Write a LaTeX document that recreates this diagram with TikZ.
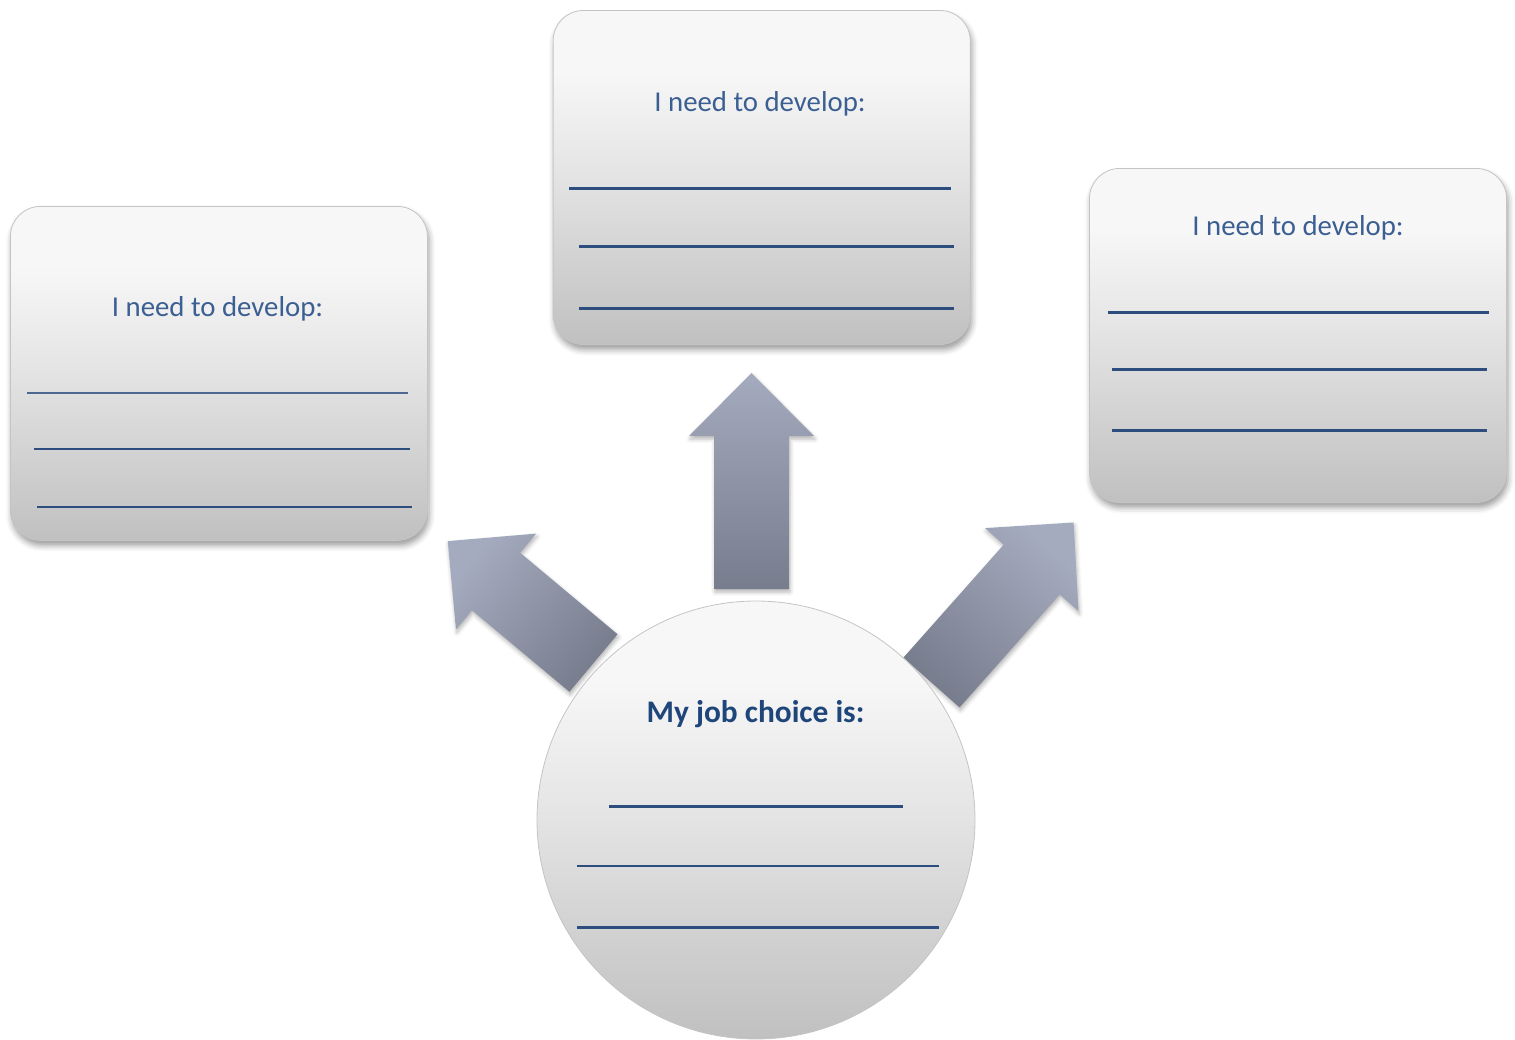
\documentclass[tikz,border=0pt]{standalone}
\usepackage{fontspec}
\setmainfont{Carlito}
\usetikzlibrary{shadows.blur}
\definecolor{txtblue}{HTML}{3B5F92}
\definecolor{boldblue}{HTML}{1F467A}
\definecolor{lineblue}{HTML}{2C4D7D}
\definecolor{boxtop}{HTML}{F7F7F7}
\definecolor{boxmid}{HTML}{E6E6E6}
\definecolor{boxbot}{HTML}{C0C0C0}
\definecolor{boxedge}{HTML}{C4C4C4}
\definecolor{arrowlight}{HTML}{A5ABBE}
\definecolor{arrowdark}{HTML}{777D8D}
\pgfdeclareverticalshading{boxshade}{100bp}{color(0bp)=(boxbot); color(25bp)=(boxbot); color(52bp)=(boxmid); color(66bp)=(boxtop); color(75bp)=(boxtop); color(100bp)=(boxtop)}
\tikzset{
  devbox/.style={draw=boxedge, line width=0.4pt, shading=boxshade, rounded corners=15pt,
    minimum width=208.5pt, minimum height=167pt, inner sep=0pt,
    blur shadow={shadow xshift=0.8pt, shadow yshift=-2.5pt, shadow blur radius=3pt, shadow opacity=40}},
  jobcirc/.style={circle, draw=boxedge, line width=0.4pt, shading=boxshade,
    minimum size=438pt*0.5, inner sep=0pt},
  lbl/.style={text=txtblue, font=\fontsize{14.4pt}{17pt}\selectfont, anchor=base, inner sep=0pt},
  boldlbl/.style={text=boldblue, font=\fontsize{15.7pt}{18pt}\selectfont\bfseries, anchor=base, inner sep=0pt},
  uline/.style={draw=lineblue, line width=1.3pt},
  thinline/.style={draw=lineblue!85!white, line width=0.9pt},
  arrowfill/.style={top color=arrowlight, bottom color=arrowdark,
    blur shadow={shadow xshift=0.5pt, shadow yshift=-1.5pt, shadow blur radius=2pt, shadow opacity=30}}
}
\newcommand\blockarrowshape[4]{%
  \begin{scope}[shift={(#1,#2)}, rotate=#3]
    \path[arrowfill, shading angle=#3-90] (0,-37.5) -- ({#4-63},-37.5) -- ({#4-63},-62.5) -- (#4,0)
      -- ({#4-63},62.5) -- ({#4-63},37.5) -- (0,37.5) -- cycle;
  \end{scope}}
\begin{document}
\begin{tikzpicture}[x=0.5pt, y=-0.5pt]
\useasboundingbox (0,0) rectangle (1515,1039);
% boxes
\node[devbox] (leftbox) at (218.9,373.4) {};
\node[devbox] (midbox) at (761.7,177.5) {};
\node[devbox] (rightbox) at (1298,335.5) {};
% arrows
\blockarrowshape{751.5}{589}{90}{216}
\blockarrowshape{593.5}{663}{140.1}{190}
\blockarrowshape{931.5}{682.5}{48.4}{214}
% circle
\node[jobcirc] (job) at (756,820) {};
% texts
\node[lbl] (lefttxt) at (217.5,316) {I need to develop:};
\node[lbl] (midtxt) at (760,111) {I need to develop:};
\node[lbl] (righttxt) at (1298,235.7) {I need to develop:};
\node[boldlbl] (jobtxt) at (755.5,722.5) {My job choice is:};
% lines left box
\draw[thinline] (27.3,393.3) -- (408.3,393.3);
\draw[uline] (34.3,449) -- (409.7,449);
\draw[uline] (37.3,507) -- (412.3,507);
% lines middle box
\draw[uline] (569,188.3) -- (950.7,188.3);
\draw[uline] (579,246.7) -- (954.3,246.7);
\draw[uline] (579,308.3) -- (954.3,308.3);
% lines right box
\draw[uline] (1108,312.7) -- (1488.7,312.7);
\draw[uline] (1111.7,369.3) -- (1486.7,369.3);
\draw[uline] (1111.7,430.7) -- (1486.7,430.7);
% lines circle
\draw[uline] (609,806.7) -- (903,806.7);
\draw[uline] (576.7,866) -- (938.7,866);
\draw[uline] (576.7,927.3) -- (938.7,927.3);
\end{tikzpicture}
\end{document}
